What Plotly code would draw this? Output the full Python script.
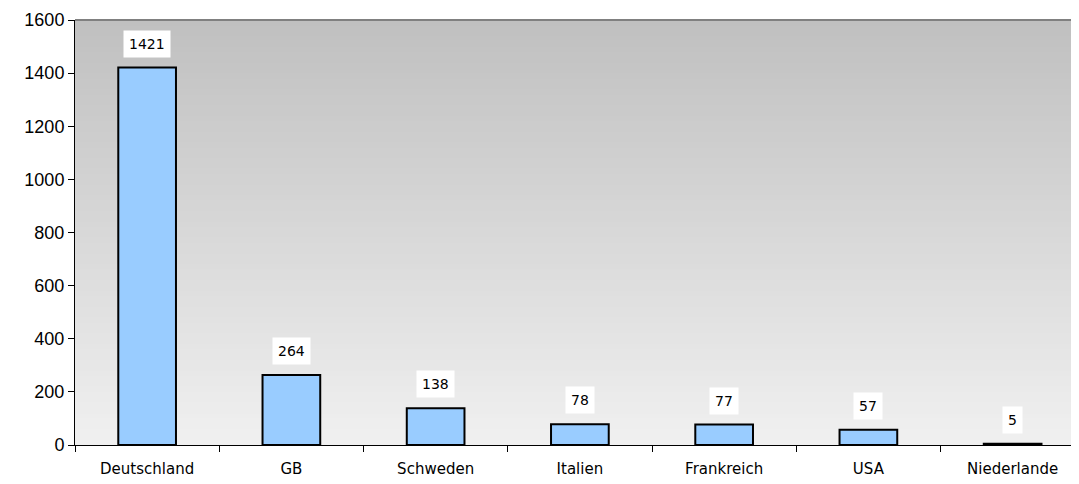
import plotly.graph_objects as go

categories = ["Deutschland", "GB", "Schweden", "Italien", "Frankreich", "USA", "Niederlande"]
values = [1421, 264, 138, 78, 77, 57, 5]
y_ticks = [0, 200, 400, 600, 800, 1000, 1200, 1400, 1600]

fig = go.Figure()
fig.add_trace(go.Bar(
    x=categories, y=values, width=0.4,
    marker=dict(color="#99ccff", line=dict(color="black", width=2)),
    hoverinfo="x+y",
))

# gradient background bands
shapes = []
n = 80
top = (192, 192, 192)
bot = (240, 240, 240)
for i in range(n):
    t = i / (n - 1)
    c = tuple(round(bot[k] + (top[k] - bot[k]) * t) for k in range(3))
    shapes.append(dict(type="rect", xref="x domain", yref="y domain",
                       x0=0, x1=1, y0=i / n, y1=min(1, (i + 1) / n + 0.006),
                       fillcolor="rgb(%d,%d,%d)" % c, line=dict(width=0), layer="below"))
shapes.append(dict(type="line", xref="x domain", yref="y domain", x0=0, x1=1, y0=1, y1=1,
                   line=dict(color="#808080", width=2)))
fig.update_layout(shapes=shapes)

for c, v in zip(categories, values):
    fig.add_annotation(x=c, y=v, text=str(v), showarrow=False, yshift=24,
                       bgcolor="white", borderpad=5,
                       font=dict(family="DejaVu Sans", size=14, color="black"))

# page body has an 8px margin, so the figure is sized/offset to compensate
fig.update_layout(
    width=1071, height=476,
    margin=dict(l=67, r=0, t=12, b=39),
    paper_bgcolor="white", plot_bgcolor="rgba(0,0,0,0)",
    showlegend=False,
    xaxis=dict(range=[-0.5, 6.46], tickson="boundaries", ticks="outside", ticklen=6,
               tickcolor="black", showline=True, linecolor="black", linewidth=1,
               showgrid=False, automargin=False, ticklabelstandoff=10,
               tickfont=dict(family="DejaVu Sans", size=15, color="black")),
    yaxis=dict(range=[0, 1600], tickvals=y_ticks, ticks="outside", ticklen=6,
               tickcolor="black", showline=True, linecolor="black", linewidth=1,
               showgrid=False, zeroline=False, automargin=False,
               tickfont=dict(family="Liberation Sans", size=18, color="black")),
)

fig.write_html("out.html")
